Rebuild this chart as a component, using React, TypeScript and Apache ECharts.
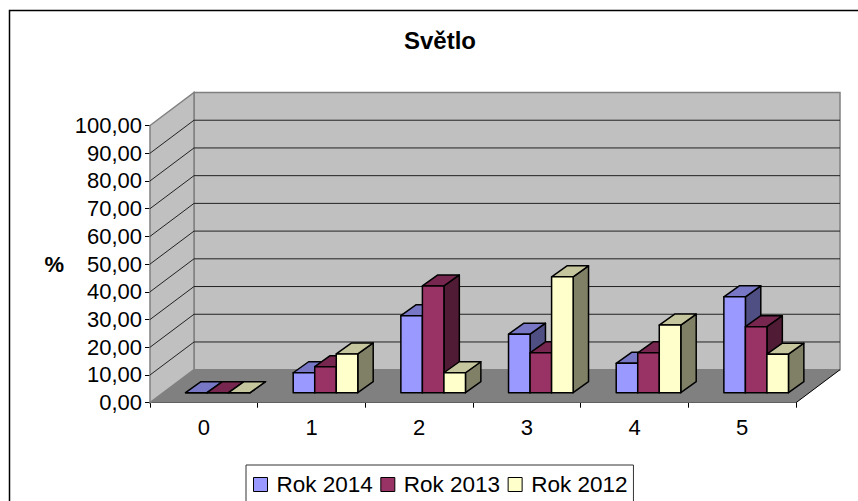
import React, { useEffect, useRef } from "react";
import * as echarts from "echarts";

const categories = ["0", "1", "2", "3", "4", "5"];
const yTicks = [0, 10, 20, 30, 40, 50, 60, 70, 80, 90, 100];
const rok2014 = [0, 7.2, 27.8, 21.1, 10.6, 34.6];
const rok2013 = [0, 9.4, 38.5, 14.4, 14.4, 23.8];
const rok2012 = [0, 14, 7.2, 41.8, 24.4, 13.9];

const seriesNames = ["Rok 2014", "Rok 2013", "Rok 2012"];
const seriesValues = [rok2014, rok2013, rok2012];
const faces = [
  { front: "#9999FF", top: "#7777C6", side: "#4F4F84" },
  { front: "#993366", top: "#77274F", side: "#4F1B35" },
  { front: "#FFFFCC", top: "#C6C69E", side: "#808066" },
];

const wallDx = 44;
const wallDy = 33;
const barInsetX = 14;
const barInsetY = 10;
const barDepthX = 15.4;
const barDepthY = 11;
const FONT = "'Liberation Sans', Arial, sans-serif";

const wallItem = (params: any, api: any) => {
  const cs = params.coordSys;
  const y = api.coord([0, api.value(0)])[1];
  const left = cs.x;
  const right = cs.x + cs.width;
  const children: any[] = [];
  if (params.dataIndex === 0) {
    const top = cs.y;
    const bottom = cs.y + cs.height;
    children.push(
      {
        type: "polygon",
        shape: { points: [[left + wallDx, top - wallDy], [right + wallDx, top - wallDy], [right + wallDx, bottom - wallDy], [left + wallDx, bottom - wallDy]] },
        style: { fill: "#C0C0C0", stroke: "#808080", lineWidth: 1.5 },
      },
      {
        type: "polygon",
        shape: { points: [[left, top], [left + wallDx, top - wallDy], [left + wallDx, bottom - wallDy], [left, bottom]] },
        style: { fill: "#C0C0C0", stroke: "#808080", lineWidth: 1.5 },
      },
      {
        type: "polygon",
        shape: { points: [[left, bottom], [right, bottom], [right + wallDx, bottom - wallDy], [left + wallDx, bottom - wallDy]] },
        style: { fill: "#808080" },
      },
      {
        type: "line",
        shape: { x1: right, y1: bottom, x2: right + wallDx, y2: bottom - wallDy },
        style: { stroke: "#000", lineWidth: 1 },
      },
    );
  } else if (api.value(0) < 100) {
    children.push({
      type: "polyline",
      shape: { points: [[left, y], [left + wallDx, y - wallDy], [right + wallDx, y - wallDy]] },
      style: { fill: "none", stroke: "#222", lineWidth: 1 },
    });
  }
  return { type: "group", children };
};

const barItem = (sIdx: number) => (params: any, api: any) => {
  const idx = api.value(0);
  const val = api.value(1);
  const [cx, y0] = api.coord([idx, 0]);
  const [, yv] = api.coord([idx, val]);
  const bw = api.size([1, 0])[0] / 5;
  const x = cx - 1.5 * bw + sIdx * bw + barInsetX;
  const b = y0 - barInsetY;
  const t = yv - barInsetY;
  const f = faces[sIdx];
  const stroke = { stroke: "#000", lineWidth: 1.5, lineJoin: "round" };
  return {
    type: "group",
    children: [
      {
        type: "polygon",
        shape: { points: [[x + bw, t], [x + bw + barDepthX, t - barDepthY], [x + bw + barDepthX, b - barDepthY], [x + bw, b]] },
        style: { fill: f.side, ...stroke },
      },
      {
        type: "polygon",
        shape: { points: [[x, t], [x + barDepthX, t - barDepthY], [x + bw + barDepthX, t - barDepthY], [x + bw, t]] },
        style: { fill: f.top, ...stroke },
      },
      {
        type: "rect",
        shape: { x, y: t, width: bw, height: b - t },
        style: { fill: f.front, ...stroke },
      },
    ],
  };
};

export default function App() {
  const ref = useRef<HTMLDivElement>(null);
  useEffect(() => {
    document.body.style.margin = "0";
    document.body.style.background = "#fff";
    const chart = echarts.init(ref.current!, undefined, { renderer: "svg" });
    chart.setOption({
      animation: false,
      backgroundColor: "#fff",
      textStyle: { fontFamily: FONT },
      title: {
        text: "Světlo",
        left: 435,
        textAlign: "center",
        top: 23,
        textStyle: { fontFamily: FONT, fontWeight: "bold", fontSize: 24, color: "#000" },
      },
      legend: {
        data: seriesNames,
        left: 246,
        top: 465,
        padding: [8, 6, 30, 7],
        itemGap: 7.5,
        itemWidth: 14,
        itemHeight: 14,
        icon: "rect",
        itemStyle: { borderColor: "#000", borderWidth: 1 },
        backgroundColor: "#fff",
        borderColor: "#333",
        borderWidth: 1,
        textStyle: { fontFamily: FONT, fontSize: 22.5, color: "#000", padding: [0, 0, 0, 4] },
        selectedMode: false,
      },
      grid: { left: 150, right: 62, top: 125.5, bottom: 98.3 },
      xAxis: {
        type: "category",
        data: categories,
        axisLine: { lineStyle: { color: "#000", width: 1 } },
        axisTick: { show: true, length: 5, alignWithLabel: false, lineStyle: { color: "#000" } },
        axisLabel: { color: "#000", fontSize: 22, margin: 14, fontFamily: FONT },
        splitLine: { show: false },
      },
      yAxis: {
        type: "value",
        min: 0,
        max: 100,
        interval: 10,
        name: "%",
        nameLocation: "middle",
        nameGap: 86,
        nameRotate: 0,
        nameTextStyle: { color: "#000", fontWeight: "bold", fontSize: 22, fontFamily: FONT, padding: [2, 0, 0, 0] },
        axisLine: { show: true, lineStyle: { color: "#000", width: 1 } },
        axisTick: { show: true, length: 5, lineStyle: { color: "#000" } },
        axisLabel: { color: "#000", fontSize: 22, margin: 8, padding: [3, 0, 0, 0], fontFamily: FONT, formatter: (v: number) => v.toFixed(2).replace(".", ",") },
        splitLine: { show: false },
      },
      graphic: [
        {
          type: "rect",
          z: -1,
          silent: true,
          shape: { x: 9.5, y: 10.5, width: 860, height: 520 },
          style: { fill: "#fff", stroke: "#000", lineWidth: 1.5 },
        },
      ],
      series: [
        {
          type: "custom",
          name: "walls",
          data: yTicks.map((v) => [v]),
          renderItem: wallItem,
          encode: { x: -1, y: 0 },
          silent: true,
          z: 1,
        },
        ...seriesNames.map((name, s) => ({
          type: "custom",
          name,
          data: seriesValues[s].map((v, i) => [i, v]),
          renderItem: barItem(s),
          encode: { x: 0, y: 1 },
          itemStyle: { color: faces[s].front },
          silent: true,
          z: 2 + s,
        })),
      ],
    });
    return () => chart.dispose();
  }, []);
  return <div ref={ref} style={{ width: 858, height: 501 }} />;
}
